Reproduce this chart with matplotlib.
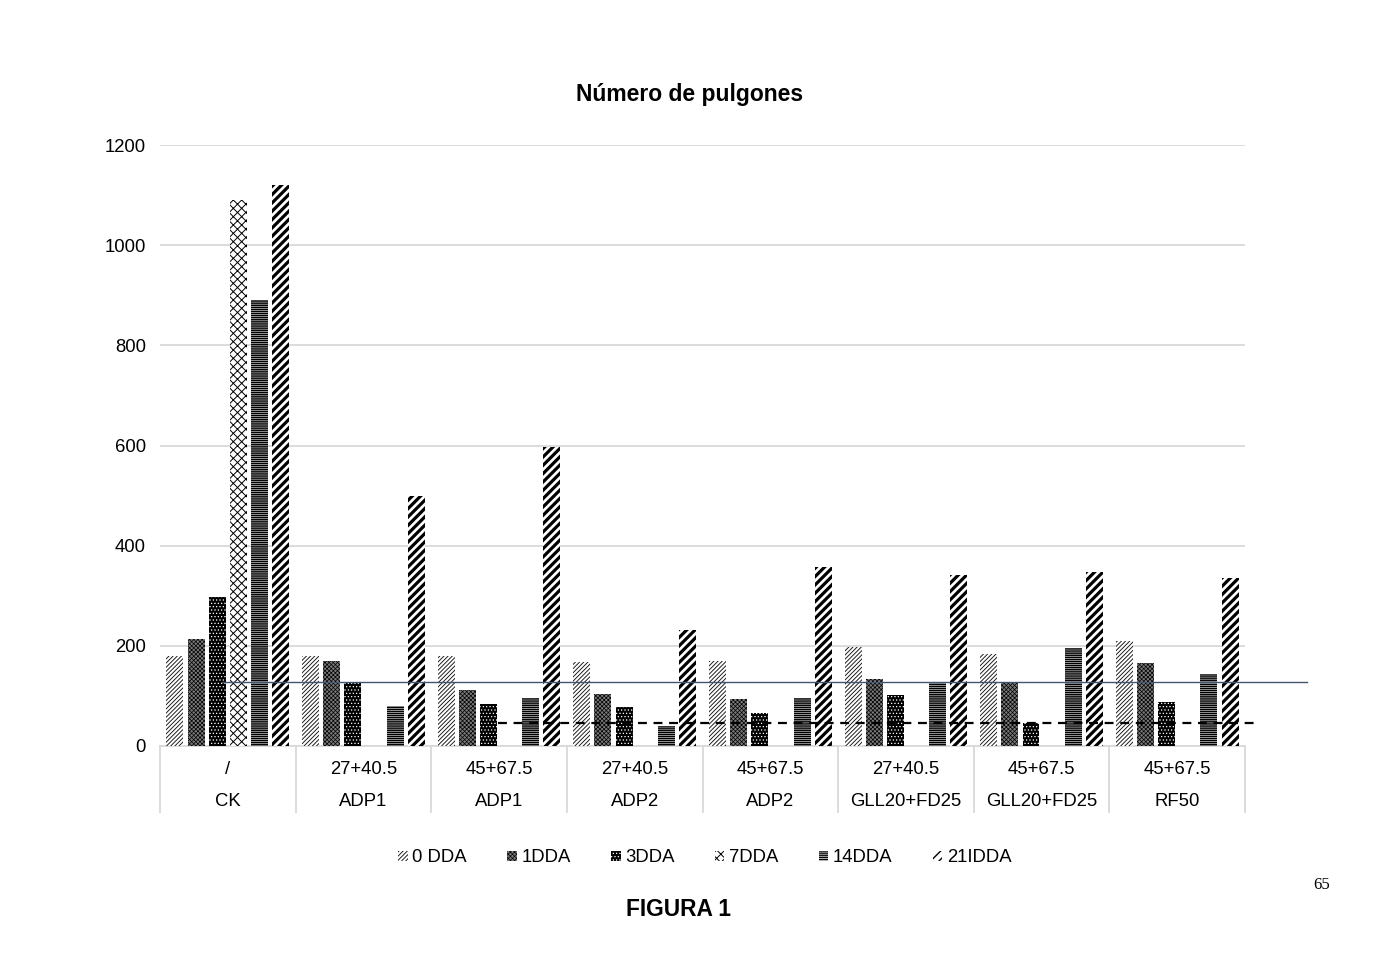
import matplotlib
matplotlib.use("Agg")
import matplotlib.pyplot as plt
import matplotlib.transforms as mtransforms
from matplotlib.patches import Rectangle
import numpy as np

# ---- data ----
cat_top = ['/', '27+40.5', '45+67.5', '27+40.5', '45+67.5', '27+40.5', '45+67.5', '45+67.5']
cat_bottom = ['CK', 'ADP1', 'ADP1', 'ADP2', 'ADP2', 'GLL20+FD25', 'GLL20+FD25', 'RF50']
series_names = ['0 DDA', '1DDA', '3DDA', '7DDA', '14DDA', '21IDDA']
dda0 = [179, 179, 179, 168, 170, 197, 184, 209]
dda1 = [213, 170, 111, 103, 93, 133, 128, 165]
dda3 = [297, 125, 83, 78, 65, 101, 46, 87]
dda7 = [1091, 0, 0, 0, 0, 0, 0, 0]
dda14 = [890, 80, 96, 40, 96, 128, 196, 144]
dda21 = [1120, 500, 597, 231, 357, 341, 347, 335]
ref_solid = 128
ref_dashed = 46
yticks = [0, 200, 400, 600, 800, 1000, 1200]

series = [dda0, dda1, dda3, dda7, dda14, dda21]

plt.rcParams['font.family'] = ['Liberation Sans', 'DejaVu Sans']

fig = plt.figure(figsize=(13.8, 9.76), dpi=100)
W, H = 1380, 976
ax = fig.add_axes([160 / W, 1 - 746 / H, (1245 - 160) / W, (746 - 145) / H])

styles = [
    dict(facecolor='white', edgecolor='#111111', hatch='////////', hlw=0.65),
    dict(facecolor='#7a7a7a', edgecolor='black', hatch='xxxxxxxx', hlw=0.5),
    dict(facecolor='black', edgecolor='white', hatch='.....', hlw=0.5),
    dict(facecolor='white', edgecolor='black', hatch='xxxx', hlw=0.7),
    dict(facecolor='white', edgecolor='black', hatch='--------', hlw=1.1),
    dict(facecolor='white', edgecolor='black', hatch='////', hlw=2.3),
]

FS = 13.3
x = np.arange(len(cat_top))
step = 0.156
width = 0.125
for i, (vals, st) in enumerate(zip(series, styles)):
    offs = (i - 2.5) * step
    plt.rcParams['hatch.linewidth'] = st['hlw']
    bars = ax.bar(x + offs, vals, width, facecolor=st['facecolor'],
                  edgecolor=st['edgecolor'], hatch=st['hatch'], linewidth=0,
                  zorder=3)
    for b in bars:
        if hasattr(b, 'set_hatch_linewidth'):
            b.set_hatch_linewidth(st['hlw'])

ax.set_xlim(-0.5, len(cat_top) - 0.5)
ax.set_ylim(0, 1200)
ax.set_yticks(yticks)
ax.set_yticklabels([str(v) for v in yticks], fontsize=FS)
ax.tick_params(axis='y', length=0, pad=10)
ax.tick_params(axis='x', length=0, labelbottom=False)
ax.grid(axis='y', color='#D9D9D9', linewidth=1.3, zorder=0)
for s in ['top', 'right', 'left']:
    ax.spines[s].set_visible(False)
ax.spines['bottom'].set_color('#D9D9D9')
ax.spines['bottom'].set_linewidth(1.3)

# reference lines
ax.plot([-0.045, 7.957], [ref_solid, ref_solid], color='#44546A', lw=1.0,
        zorder=4, clip_on=False)
ax.plot([1.993, 7.6], [ref_dashed, ref_dashed], color='black', lw=1.6,
        ls=(0, (4, 3)), zorder=4, clip_on=False)

# category table
trans = mtransforms.blended_transform_factory(ax.transData, fig.transFigure)
y_top = 1 - 746 / H
y_bot = 1 - 812 / H
for b in np.arange(-0.5, len(cat_top), 1.0):
    ax.plot([b, b], [y_top, y_bot], color='#D9D9D9', lw=1.3, transform=trans,
            clip_on=False)
for i in range(len(cat_top)):
    ax.text(i, 1 - 770 / H, cat_top[i], transform=trans, ha='center',
            va='center', fontsize=FS)
    ax.text(i, 1 - 802 / H, cat_bottom[i], transform=trans, ha='center',
            va='center', fontsize=FS)

# legend
handles = []
for st in styles:
    r = Rectangle((0, 0), 1, 1, facecolor=st['facecolor'], edgecolor=st['edgecolor'],
                  hatch=st['hatch'], linewidth=0)
    handles.append(r)
leg = fig.legend(handles, series_names, loc='center',
                 bbox_to_anchor=(705 / W, 1 - 858 / H),
                 ncol=6, frameon=False, fontsize=FS, handlelength=0.5,
                 handleheight=0.5, handletextpad=0.25, columnspacing=2.2)
for p, st in zip(leg.get_patches(), styles):
    if hasattr(p, 'set_hatch_linewidth'):
        p.set_hatch_linewidth(min(st['hlw'], 1.0))

fig.text(690 / W, 1 - 95 / H, 'Número de pulgones', ha='center', va='center',
         fontsize=16.5, fontweight='bold')
fig.text(679 / W, 1 - 909 / H, 'FIGURA 1', ha='center', va='center',
         fontsize=16.4, fontweight='bold')
fig.text(1322 / W, 1 - 885 / H, '65', ha='center', va='center', fontsize=12,
         family=['Liberation Serif', 'DejaVu Serif'])

plt.rcParams['hatch.linewidth'] = 0.8
fig.savefig('out.png', dpi=100)
